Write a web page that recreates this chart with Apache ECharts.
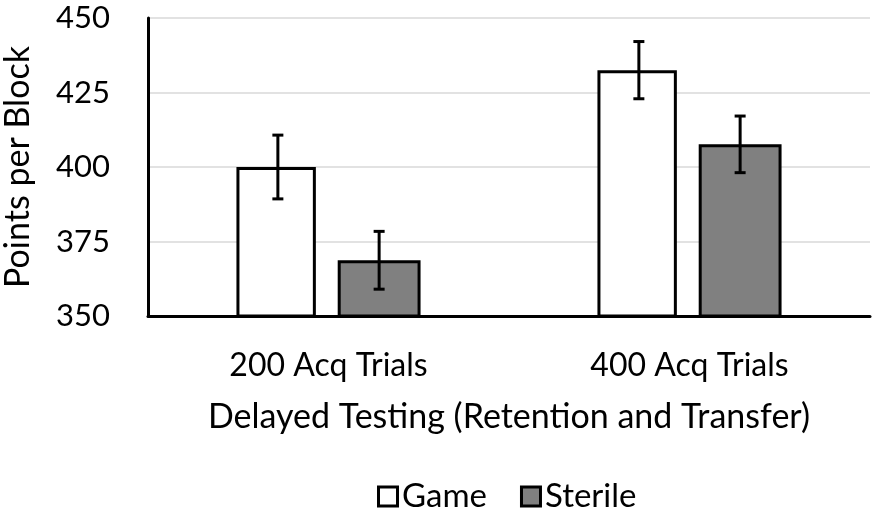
<!DOCTYPE html>
<html>
<head>
<meta charset="utf-8">
<script src="https://cdn.jsdelivr.net/npm/echarts@6/dist/echarts.min.js"></script>
<style>html,body{margin:0;padding:0;background:#fff;}#c{width:872px;height:515px;}</style>
</head>
<body>
<div id="c"></div>
<script>
const categories = ['200 Acq Trials', '400 Acq Trials'];
const seriesNames = ['Game', 'Sterile'];
const gameValues = [400, 432.5];
const sterileValues = [368.7, 407.6];
const gameErrors = [10.7, 9.6];
const sterileErrors = [9.7, 9.5];
const yTicks = [350, 375, 400, 425, 450];

const FONT = 'Lato';
const BAR_W = 0.22, BAR_GAP = 0.275;
const COLORS = { Game: '#ffffff', Sterile: '#808080' };

function errorSeries(name, values, errors, sign) {
  return {
    type: 'custom',
    name: name + ' err',
    z: 10,
    silent: true,
    data: values.map((v, i) => [i, v - errors[i], v + errors[i]]),
    renderItem: function (params, api) {
      const i = api.value(0);
      const band = api.size([1, 0])[0];
      const off = sign * band * BAR_W * (1 + BAR_GAP) / 2;
      const lo = api.coord([i, api.value(1)]);
      const hi = api.coord([i, api.value(2)]);
      const x = lo[0] + off;
      const cap = 5.5;
      const st = { stroke: '#000', lineWidth: 3 };
      return {
        type: 'group',
        children: [
          { type: 'line', shape: { x1: x, y1: lo[1], x2: x, y2: hi[1] }, style: st },
          { type: 'line', shape: { x1: x - cap, y1: lo[1], x2: x + cap, y2: lo[1] }, style: st },
          { type: 'line', shape: { x1: x - cap, y1: hi[1], x2: x + cap, y2: hi[1] }, style: st }
        ]
      };
    }
  };
}

const boxStyle = (c) => ({ width: 16, height: 16, backgroundColor: c, borderColor: '#000', borderWidth: 3 });

const chart = echarts.init(document.getElementById('c'));
chart.setOption({
  animation: false,
  backgroundColor: '#fff',
  textStyle: { fontFamily: FONT },
  grid: { left: 148, right: 2, top: 18, bottom: 199, containLabel: false, outerBoundsMode: 'none' },
  legend: {
    data: seriesNames,
    bottom: -3,
    left: 369,
    itemWidth: 0,
    itemHeight: 0,
    itemGap: 30,
    icon: 'rect',
    formatter: function (name) { return '{' + (name === 'Game' ? 'g' : 's') + '|}{t|' + name + '}'; },
    textStyle: {
      fontSize: 33, lineHeight: 33, color: '#000', fontFamily: FONT,
      rich: {
        g: boxStyle(COLORS.Game),
        s: boxStyle(COLORS.Sterile),
        t: { fontSize: 33, lineHeight: 33, color: '#000', fontFamily: FONT, padding: [0, 0, 0, 6] }
      }
    }
  },
  xAxis: {
    type: 'category',
    data: categories,
    name: 'Delayed Testing (Retention and Transfer)',
    nameLocation: 'middle',
    nameGap: 84,
    nameTextStyle: { fontSize: 34, lineHeight: 34, color: '#000', fontFamily: FONT },
    axisLine: { lineStyle: { color: '#000', width: 3 } },
    axisTick: { show: false },
    axisLabel: { fontSize: 32, lineHeight: 32, color: '#000', margin: 34, fontFamily: FONT }
  },
  yAxis: {
    type: 'value',
    min: yTicks[0],
    max: yTicks[yTicks.length - 1],
    interval: 25,
    name: 'Points per Block',
    nameLocation: 'middle',
    nameGap: 113,
    nameTextStyle: { fontSize: 34, lineHeight: 34, color: '#000', fontFamily: FONT },
    axisLine: { show: true, lineStyle: { color: '#000', width: 3 } },
    axisTick: { show: false },
    axisLabel: { fontSize: 31, color: '#000', margin: 38, fontFamily: FONT },
    splitLine: { lineStyle: { color: '#d9d9d9', width: 1.5 } }
  },
  series: [
    {
      type: 'bar', name: 'Game', data: gameValues,
      barWidth: (BAR_W * 100) + '%', barGap: (BAR_GAP * 100) + '%',
      itemStyle: { color: COLORS.Game, borderColor: '#000', borderWidth: 3 }
    },
    {
      type: 'bar', name: 'Sterile', data: sterileValues,
      itemStyle: { color: COLORS.Sterile, borderColor: '#000', borderWidth: 3 }
    },
    errorSeries('Game', gameValues, gameErrors, -1),
    errorSeries('Sterile', sterileValues, sterileErrors, 1)
  ]
});
</script>
</body>
</html>
